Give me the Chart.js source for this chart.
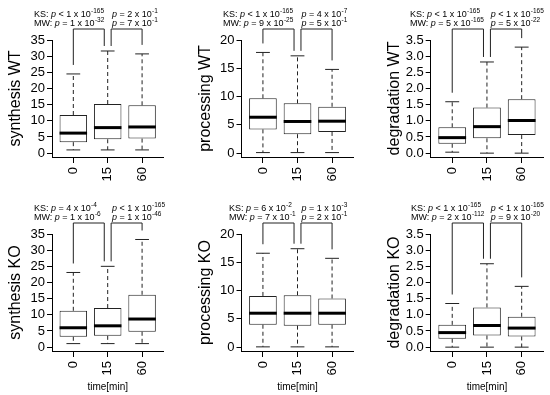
<!DOCTYPE html>
<html>
<head>
<meta charset="utf-8">
<script src="https://cdn.jsdelivr.net/npm/chart.js@4.4.0/dist/chart.umd.min.js"></script>
<style>
  html, body { margin: 0; padding: 0; background: #fff; }
  #wrap { position: relative; width: 550px; height: 395px; }
  #wrap canvas { position: absolute; left: 0; top: 0; }
</style>
</head>
<body>
<div id="wrap"></div>
<script>
// time points (categories)
const times = ['0', '15', '60'];
const xPos = [1, 2, 3];

const panelTitles = ['synthesis WT', 'processing WT', 'degradation WT',
                     'synthesis KO', 'processing KO', 'degradation KO'];

// y axis tops and tick labels
const yMax = [35, 20, 3.5, 35, 20, 3.5];
const yTickValues = [
  [0, 5, 10, 15, 20, 25, 30, 35],
  [0, 5, 10, 15, 20],
  [0, 0.5, 1, 1.5, 2, 2.5, 3, 3.5],
  [0, 5, 10, 15, 20, 25, 30, 35],
  [0, 5, 10, 15, 20],
  [0, 0.5, 1, 1.5, 2, 2.5, 3, 3.5]
];
const yDecimals = [0, 0, 1, 0, 0, 1];

// box statistics, one row per panel, one value per time point
const whiskerLow = [
  [1.0, 1.0, 1.0],
  [0.1, 0.1, 0.1],
  [0.03, 0.0, 0.0],
  [1.1, 1.1, 1.1],
  [0.05, 0.05, 0.05],
  [0.0, 0.0, 0.0]
];
const lowerQuartile = [
  [3.4, 4.3, 4.5],
  [4.2, 3.35, 3.75],
  [0.29, 0.46, 0.56],
  [3.2, 3.5, 4.75],
  [3.96, 3.8, 3.96],
  [0.26, 0.36, 0.33]
];
const medians = [
  [6.2, 7.9, 8.1],
  [6.35, 5.6, 5.65],
  [0.48, 0.82, 1.01],
  [6.0, 6.6, 8.7],
  [6.0, 6.0, 6.0],
  [0.45, 0.67, 0.59]
];
const upperQuartile = [
  [11.8, 15.2, 14.8],
  [9.7, 8.8, 8.2],
  [0.80, 1.41, 1.67],
  [11.25, 12.1, 16.2],
  [9.05, 9.17, 8.6],
  [0.69, 1.23, 0.94]
];
const whiskerHigh = [
  [24.5, 31.6, 30.7],
  [17.8, 17.2, 14.8],
  [1.59, 2.82, 3.28],
  [23.1, 25.0, 33.3],
  [16.6, 17.4, 15.7],
  [1.35, 2.58, 1.88]
];

// p values: [0 vs 15, 15 vs 60] -> {op, m, e} means p op m x 10^e
const ksPvals = [
  [{op: '<', m: 1, e: -165}, {op: '=', m: 2, e: -1}],
  [{op: '<', m: 1, e: -165}, {op: '=', m: 4, e: -7}],
  [{op: '<', m: 1, e: -165}, {op: '<', m: 1, e: -165}],
  [{op: '=', m: 4, e: -4}, {op: '<', m: 1, e: -165}],
  [{op: '=', m: 6, e: -2}, {op: '=', m: 1, e: -3}],
  [{op: '<', m: 1, e: -165}, {op: '<', m: 1, e: -165}]
];
const mwPvals = [
  [{op: '=', m: 1, e: -32}, {op: '=', m: 7, e: -1}],
  [{op: '=', m: 9, e: -25}, {op: '=', m: 5, e: -1}],
  [{op: '=', m: 5, e: -165}, {op: '=', m: 5, e: -22}],
  [{op: '=', m: 1, e: -6}, {op: '=', m: 1, e: -46}],
  [{op: '=', m: 7, e: -1}, {op: '=', m: 2, e: -1}],
  [{op: '=', m: 2, e: -112}, {op: '=', m: 9, e: -20}]
];

// layout (page pixels)
const colLeft = [52, 241.5, 430.7];
const colRight = [163.4, 353.5, 543.2];
const rowTop = [40, 234];
const rowBottom = [157, 351];
const textLeft = [34, 223, 410, 34, 229, 411];
const FONT = '"Liberation Sans", Arial, Helvetica, sans-serif';
const INK = '#222';

function drawP(ctx, x, y, prefix, pv) {
  let cx = x;
  ctx.font = '9px ' + FONT;
  if (prefix) { ctx.fillText(prefix, cx, y); cx += ctx.measureText(prefix).width; }
  ctx.font = 'italic 9px ' + FONT;
  ctx.fillText('p', cx, y); cx += ctx.measureText('p').width;
  ctx.font = '9px ' + FONT;
  const body = ' ' + pv.op + ' ' + pv.m + ' x 10';
  ctx.fillText(body, cx, y); cx += ctx.measureText(body).width;
  ctx.font = '6.5px ' + FONT;
  ctx.fillText(String(pv.e), cx + 0.3, y - 3.8);
}

const boxExtras = {
  id: 'boxExtras',
  afterDatasetsDraw(chart, args, opts) {
    const k = opts.panel;
    const {ctx, chartArea} = chart;
    const xs = chart.scales.x, ys = chart.scales.y;
    const unit = xs.getPixelForValue(2) - xs.getPixelForValue(1);
    ctx.save();
    ctx.strokeStyle = INK;
    ctx.lineWidth = 1;
    xPos.forEach((xv, i) => {
      const cx = xs.getPixelForValue(xv);
      const yLo = ys.getPixelForValue(whiskerLow[k][i]);
      const yQ1 = ys.getPixelForValue(lowerQuartile[k][i]);
      const yQ3 = ys.getPixelForValue(upperQuartile[k][i]);
      const yHi = ys.getPixelForValue(whiskerHigh[k][i]);
      const yMed = ys.getPixelForValue(medians[k][i]);
      // dashed whiskers
      ctx.setLineDash([4, 3]);
      ctx.beginPath();
      ctx.moveTo(cx, yQ3); ctx.lineTo(cx, yHi);
      ctx.moveTo(cx, yQ1); ctx.lineTo(cx, yLo);
      ctx.stroke();
      ctx.setLineDash([]);
      // caps
      ctx.beginPath();
      ctx.moveTo(cx - 0.2 * unit, yHi); ctx.lineTo(cx + 0.2 * unit, yHi);
      ctx.moveTo(cx - 0.2 * unit, yLo); ctx.lineTo(cx + 0.2 * unit, yLo);
      ctx.stroke();
      // median
      ctx.save();
      ctx.strokeStyle = '#000';
      ctx.lineWidth = 3;
      ctx.beginPath();
      ctx.moveTo(cx - 0.4 * unit, yMed); ctx.lineTo(cx + 0.4 * unit, yMed);
      ctx.stroke();
      ctx.restore();
    });
    // comparison brackets
    const top = chartArea.top - 11;
    const legEnd = (i, gap) => ys.getPixelForValue(whiskerHigh[k][i]) - gap;
    const bx = v => xs.getPixelForValue(v);
    ctx.beginPath();
    ctx.moveTo(bx(1), legEnd(0, 9)); ctx.lineTo(bx(1), top);
    ctx.lineTo(bx(1.9), top); ctx.lineTo(bx(1.9), legEnd(1, 5));
    ctx.moveTo(bx(2.1), legEnd(1, 5)); ctx.lineTo(bx(2.1), top);
    ctx.lineTo(bx(3), top); ctx.lineTo(bx(3), legEnd(2, 9));
    ctx.stroke();
    // p value texts
    ctx.fillStyle = '#000';
    ctx.textBaseline = 'alphabetic';
    ctx.textAlign = 'left';
    const l1 = chartArea.top - 23, l2 = chartArea.top - 14;
    const x2 = chartArea.left + 60;
    drawP(ctx, textLeft[k], l1, 'KS: ', ksPvals[k][0]);
    drawP(ctx, textLeft[k], l2, 'MW: ', mwPvals[k][0]);
    drawP(ctx, x2, l1, '', ksPvals[k][1]);
    drawP(ctx, x2, l2, '', mwPvals[k][1]);
    ctx.restore();
  }
};

const wrap = document.getElementById('wrap');
for (let k = 0; k < 6; k++) {
  const col = k % 3, row = Math.floor(k / 3);
  const canvas = document.createElement('canvas');
  canvas.width = 550; canvas.height = 395;
  wrap.appendChild(canvas);
  const L = colLeft[col], R = colRight[col], T = rowTop[row], B = rowBottom[row];
  const yMin = -yMax[k] * 0.034;

  new Chart(canvas.getContext('2d'), {
    type: 'bar',
    data: {
      datasets: [{
        data: xPos.map((x, i) => ({x: x, y: [lowerQuartile[k][i], upperQuartile[k][i]]})),
        backgroundColor: '#fff',
        borderColor: INK,
        borderWidth: 1,
        borderSkipped: false,
        barPercentage: 0.8,
        categoryPercentage: 1.0
      }]
    },
    options: {
      responsive: false,
      animation: false,
      events: [],
      layout: { padding: { left: L - 46, right: 550 - R, top: T, bottom: 395 - B - 44 } },
      plugins: {
        legend: { display: false },
        tooltip: { enabled: false },
        boxExtras: { panel: k }
      },
      scales: {
        x: {
          type: 'linear',
          min: 0.38,
          max: 3.62,
          offset: false,
          afterBuildTicks: s => { s.ticks = xPos.map(v => ({value: v})); },
          afterFit: s => { s.height = 44; },
          ticks: {
            color: '#000',
            font: { family: FONT, size: 13 },
            padding: 4,
            minRotation: 90,
            maxRotation: 90,
            autoSkip: false,
            callback: v => times[xPos.indexOf(v)]
          },
          grid: { offset: false, drawOnChartArea: false, tickLength: 6, tickColor: '#000' },
          border: { display: true, color: '#000', width: 1 },
          title: {
            display: row === 1,
            text: 'time[min]',
            color: '#000',
            font: { family: FONT, size: 10 },
            padding: { top: 0, bottom: 2 }
          }
        },
        y: {
          type: 'linear',
          min: yMin,
          max: yMax[k],
          afterBuildTicks: s => { s.ticks = yTickValues[k].map(v => ({value: v})); },
          afterFit: s => { s.width = 46; },
          ticks: {
            color: '#000',
            font: { family: FONT, size: 13 },
            padding: 2,
            autoSkip: false,
            callback: v => v.toFixed(yDecimals[k])
          },
          grid: { drawOnChartArea: false, tickLength: 5, tickColor: '#000' },
          border: { display: true, color: '#000', width: 1 },
          title: {
            display: true,
            text: panelTitles[k],
            color: '#000',
            font: { family: FONT, size: 16 },
            padding: { top: 0, bottom: 0 }
          }
        }
      }
    },
    plugins: [boxExtras]
  });
}
</script>
</body>
</html>
